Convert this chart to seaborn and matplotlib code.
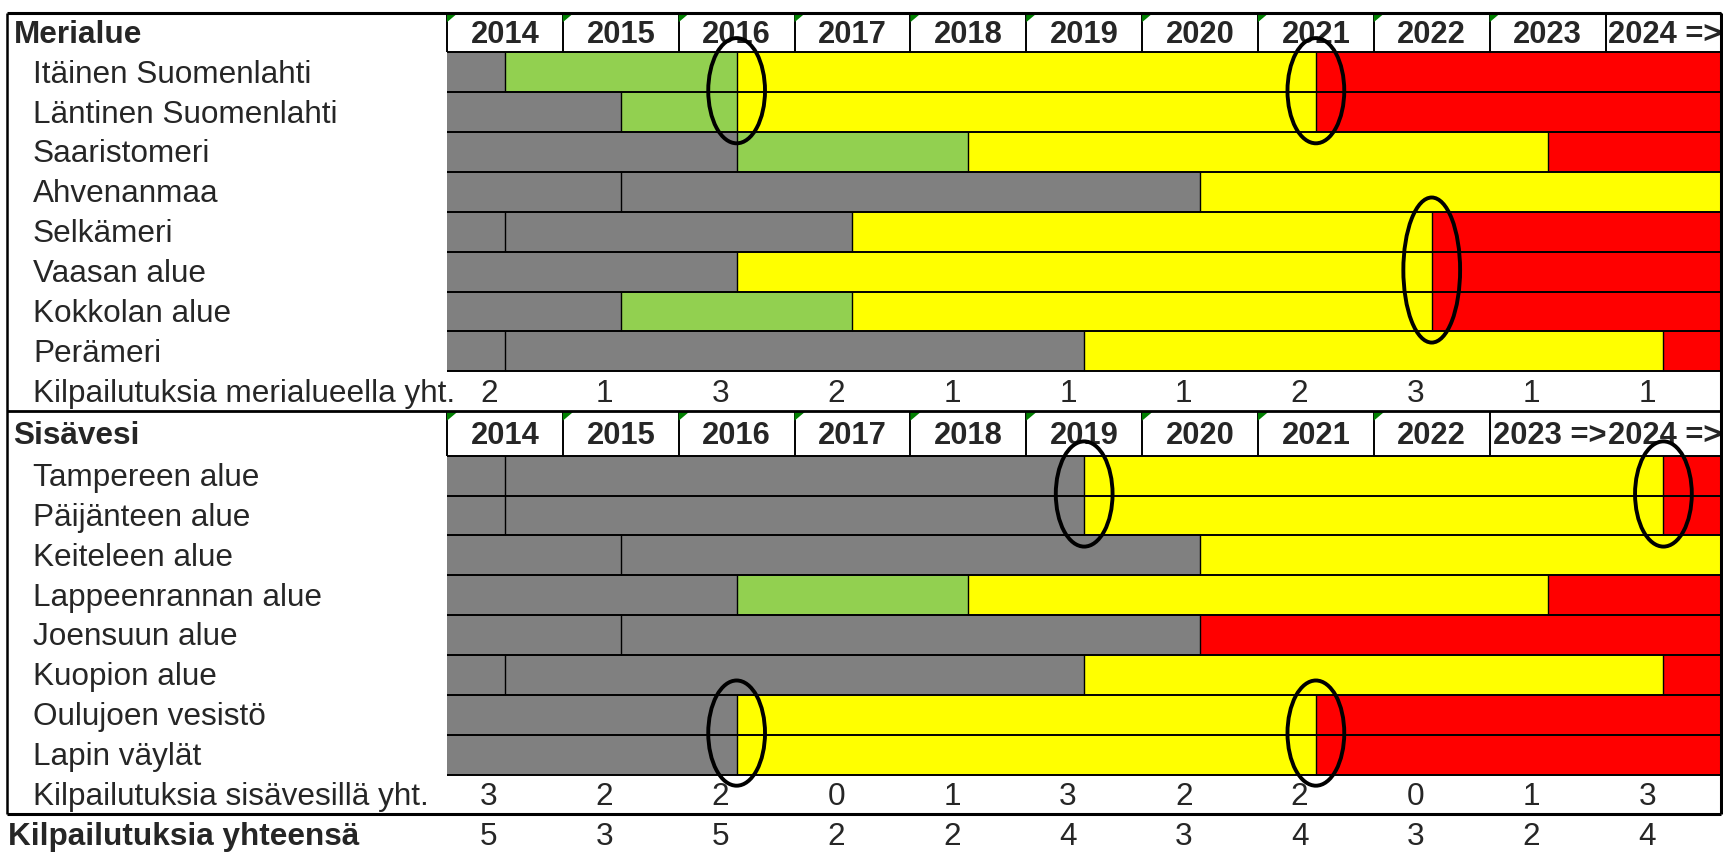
import matplotlib
matplotlib.use("Agg")
import matplotlib.pyplot as plt
from matplotlib.patches import Ellipse, Polygon
import seaborn as sns

# ---------------- data ----------------
mer_title = "Merialue"
mer_header = ["2014", "2015", "2016", "2017", "2018", "2019", "2020",
              "2021", "2022", "2023", "2024 =>"]
mer_regions = ["Itäinen Suomenlahti", "Läntinen Suomenlahti", "Saaristomeri",
               "Ahvenanmaa", "Selkämeri", "Vaasan alue", "Kokkolan alue",
               "Perämeri"]
# phase status per region: G = old contract, V = green, K = yellow, P = red
mer_status = [["G", "V", "K", "P"], ["G", "V", "K", "P"], ["G", "V", "K", "P"],
              ["G", "G", "K"], ["G", "G", "K", "P"], ["G", "K", "P"],
              ["G", "V", "K", "P"], ["G", "G", "K", "P"]]
mer_start = [[2014, 2014.5, 2016.5, 2021.5], [2014, 2015.5, 2016.5, 2021.5],
             [2014, 2016.5, 2018.5, 2023.5], [2014, 2015.5, 2020.5],
             [2014, 2014.5, 2017.5, 2022.5], [2014, 2016.5, 2022.5],
             [2014, 2015.5, 2017.5, 2022.5], [2014, 2014.5, 2019.5, 2024.5]]
mer_total_label = "Kilpailutuksia merialueella yht."
mer_counts = [2, 1, 3, 2, 1, 1, 1, 2, 3, 1, 1]
# circled transitions: (first region index, last region index, year)
mer_highlights = [(0, 1, 2016.5), (0, 1, 2021.5), (4, 6, 2022.5)]

sis_title = "Sisävesi"
sis_header = ["2014", "2015", "2016", "2017", "2018", "2019", "2020",
              "2021", "2022", "2023 =>", "2024 =>"]
sis_regions = ["Tampereen alue", "Päijänteen alue", "Keiteleen alue",
               "Lappeenrannan alue", "Joensuun alue", "Kuopion alue",
               "Oulujoen vesistö", "Lapin väylät"]
sis_status = [["G", "G", "K", "P"], ["G", "G", "K", "P"], ["G", "G", "K"],
              ["G", "V", "K", "P"], ["G", "G", "P"], ["G", "G", "K", "P"],
              ["G", "K", "P"], ["G", "K", "P"]]
sis_start = [[2014, 2014.5, 2019.5, 2024.5], [2014, 2014.5, 2019.5, 2024.5],
             [2014, 2015.5, 2020.5], [2014, 2016.5, 2018.5, 2023.5],
             [2014, 2015.5, 2020.5], [2014, 2014.5, 2019.5, 2024.5],
             [2014, 2016.5, 2021.5], [2014, 2016.5, 2021.5]]
sis_total_label = "Kilpailutuksia sisävesillä yht."
sis_counts = [3, 2, 2, 0, 1, 3, 2, 2, 0, 1, 3]
sis_highlights = [(0, 1, 2019.5), (0, 1, 2024.5), (6, 7, 2016.5), (6, 7, 2021.5)]

grand_label = "Kilpailutuksia yhteensä"
grand_counts = [5, 3, 5, 2, 2, 4, 3, 4, 3, 2, 4]

first_year = 2014
period_end = 2025

# ---------------- style ----------------
sns.set_theme(style="white")
plt.rcParams["font.family"] = ["Liberation Sans", "DejaVu Sans"]

status_colors = {"G": "#808080", "V": "#92D050", "K": "#FFFF00", "P": "#FF0000"}
FS = 22.7      # row labels / numbers
FS_HEAD = 22.2  # year headers
DY = 0.06      # small downward shift of text within rows

W, H = 1724, 855
COL_PX, X0_PX = 115.85, 447.0
ROW_PX, TOP_PX = 39.85, 12.6

fig = plt.figure(figsize=(W / 100, H / 100), dpi=100)
ax = fig.add_axes([0, 0, 1, 1])
ax.set_xlim(first_year - X0_PX / COL_PX, first_year + (W - X0_PX) / COL_PX)
ax.set_ylim(-0.5 + (H - TOP_PX) / ROW_PX, -0.5 - TOP_PX / ROW_PX)
ax.axis("off")


def px2x(px):
    return first_year + (px - X0_PX) / COL_PX


X_BORDER = px2x(6.9)
X_TITLE = px2x(13.5)
X_INDENT = px2x(33.0)
X_GRAND = px2x(8.0)
NUM_OFF = 0.36


def draw_section(title, header, regions, status, start, total_label, counts,
                 highlights, head_top, head_bot, y0):
    head_y = (head_top + head_bot) / 2 + DY
    # header
    ax.text(X_TITLE, head_y, title, fontsize=FS, fontweight="bold",
            va="center", ha="left", zorder=3)
    for k, lab in enumerate(header):
        yr = first_year + k
        if lab.endswith("=>"):
            ax.text(yr + 0.025, head_y, lab, fontsize=FS_HEAD, fontweight="bold",
                    va="center", ha="left", zorder=3, clip_on=True)
        else:
            ax.text(yr + 0.5, head_y, lab, fontsize=FS_HEAD, fontweight="bold",
                    va="center", ha="center", zorder=3)
            tri = Polygon([(yr, head_top + 0.02), (yr + 0.09, head_top + 0.02),
                           (yr, head_top + 0.24)], closed=True,
                          facecolor="#008000", edgecolor="none", zorder=3)
            ax.add_patch(tri)
    for k in range(len(header) + 1):
        yr = first_year + k
        if 0 < k < len(header) and header[k - 1].endswith("=>") and header[k].endswith("=>"):
            continue
        ax.vlines(yr, head_top, head_bot, color="black", lw=1.4, zorder=2)
    ax.hlines(head_bot, first_year, period_end, color="black", lw=1.4, zorder=2)

    # region rows
    for i, (name, st, sp) in enumerate(zip(regions, status, start)):
        y = y0 + i
        ax.text(X_INDENT, y + DY, name, fontsize=FS, va="center", ha="left", zorder=3)
        ends = sp[1:] + [period_end]
        for j, (s, e, c) in enumerate(zip(sp, ends, st)):
            ax.barh(y, e - s, left=s, height=1.0, color=status_colors[c],
                    edgecolor="none", linewidth=0, zorder=1)
            if j > 0:
                ax.vlines(s, y - 0.5, y + 0.5, color="black", lw=1.0, zorder=2)
        ax.hlines(y + 0.5, first_year, period_end, color="black", lw=1.4, zorder=2)

    # totals row
    yt = y0 + len(regions)
    ax.text(X_INDENT, yt + DY, total_label, fontsize=FS, va="center", ha="left", zorder=3)
    for k, v in enumerate(counts):
        ax.text(first_year + k + NUM_OFF, yt + DY, str(v), fontsize=FS,
                va="center", ha="center", zorder=3)

    # circled transitions
    for a, b, yr in highlights:
        n = b - a + 1
        cy = y0 + (a + b) / 2 - 0.04
        ax.add_patch(Ellipse((yr, cy), 0.49, n + 0.64, facecolor="none",
                             edgecolor="black", lw=2.8, zorder=5))
    return yt + 0.5


# Section 1: Merialue
mer_bottom = draw_section(mer_title, mer_header, mer_regions, mer_status,
                          mer_start, mer_total_label, mer_counts,
                          mer_highlights, -0.5, 0.5, 1)
# Section 2: Sisävesi
sis_y0 = mer_bottom + 1.62
sis_bottom = draw_section(sis_title, sis_header, sis_regions, sis_status,
                          sis_start, sis_total_label, sis_counts,
                          sis_highlights, mer_bottom, sis_y0 - 0.5, sis_y0)

# outer frame
ax.hlines(-0.5, X_BORDER, period_end, color="black", lw=2.2, zorder=4)
ax.hlines(mer_bottom, X_BORDER, period_end, color="black", lw=2.0, zorder=4)
ax.hlines(sis_bottom, X_BORDER, period_end, color="black", lw=2.2, zorder=4)
ax.vlines(X_BORDER, -0.5, sis_bottom, color="black", lw=1.8, zorder=4)
ax.vlines(period_end, -0.5, sis_bottom, color="black", lw=2.2, zorder=4)

# grand total
yg = sis_bottom + 0.5 + DY
ax.text(X_GRAND, yg, grand_label, fontsize=FS, fontweight="bold",
        va="center", ha="left", zorder=3)
for k, v in enumerate(grand_counts):
    ax.text(first_year + k + NUM_OFF, yg, str(v), fontsize=FS,
            va="center", ha="center", zorder=3)

fig.savefig("out.png", dpi=100, facecolor="white")
